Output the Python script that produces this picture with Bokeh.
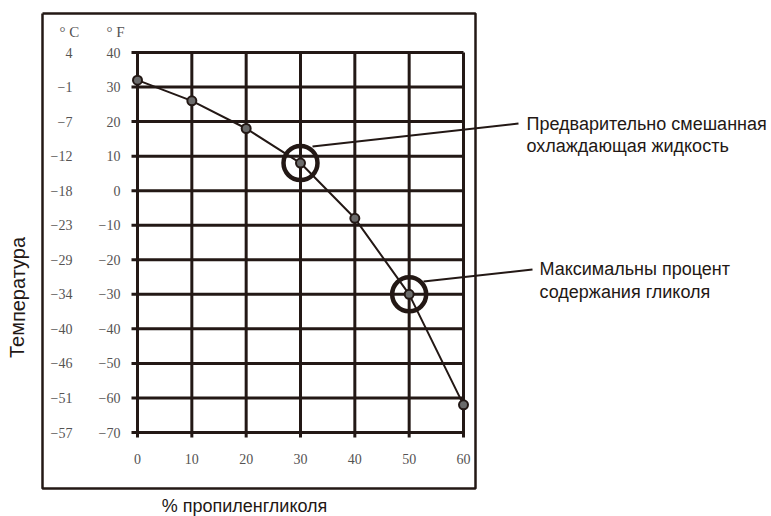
from bokeh.plotting import figure
from bokeh.models import Range1d
from bokeh.core.properties import value
from bokeh.embed import file_html
from bokeh.resources import INLINE

# ---- data ----
glycol_pct = [0, 10, 20, 30, 40, 50, 60]
freeze_f = [32, 26, 18, 8, -8, -30, -62]
highlight_pct = [30, 50]
highlight_f = [8, -30]

x_ticks = [0, 10, 20, 30, 40, 50, 60]
x_tick_labels = ["0", "10", "20", "30", "40", "50", "60"]
f_ticks = [40, 30, 20, 10, 0, -10, -20, -30, -40, -50, -60, -70]
f_tick_labels = ["40", "30", "20", "10", "0", "\u221210", "\u221220", "\u221230",
                 "\u221240", "\u221250", "\u221260", "\u221270"]
c_tick_labels = ["4", "\u22121", "\u22127", "\u221212", "\u221218", "\u221223",
                 "\u221229", "\u221234", "\u221240", "\u221246", "\u221251", "\u221257"]
unit_labels = ["\u00b0 C", "\u00b0 F"]

x_title = "% пропиленгликоля"
y_title = "Температура"
note1 = ["Предварительно смешанная", "охлаждающая жидкость"]
note2 = ["Максимальны процент", "содержания гликоля"]

# ---- layout (picture pixels -> data) ----
W, H = 771, 516
OFF = 0
SX = (463 - 137) / 60.0
SY = (432 - 52) / 110.0
X0 = 0 - (137 - OFF) / SX
Y1 = 40 + (52 - OFF) / SY


def dx(px):
    return X0 + (px - OFF) / SX


def dy(py):
    return Y1 - (py - OFF) / SY


p = figure(width=W, height=H, output_backend="svg", toolbar_location=None,
           x_range=Range1d(X0, X0 + W / SX), y_range=Range1d(Y1 - H / SY, Y1),
           x_axis_location=None, y_axis_location=None, min_border=0,
           outline_line_color=None, background_fill_color="white")
p.xgrid.visible = False
p.ygrid.visible = False

INK = "#231815"
GRAY = "#555353"
SERIF = value("Liberation Serif")
SANS = value("Liberation Sans")

# outer frame
fx0, fx1 = dx(42), dx(475)
fy0, fy1 = dy(488), dy(13)
p.line([fx0, fx1, fx1, fx0, fx0], [fy1, fy1, fy0, fy0, fy1], line_color=INK, line_width=2.5)

# grid with small tick extensions
ext_x = 6 / SX
ext_y = 5 / SY
n = len(x_ticks)
p.segment(x0=x_ticks, y0=[f_ticks[-1] - ext_y] * n, x1=x_ticks, y1=[f_ticks[0]] * n,
          line_color=INK, line_width=3)
m = len(f_ticks)
p.segment(x0=[x_ticks[0] - ext_x] * m, y0=f_ticks, x1=[x_ticks[-1]] * m, y1=f_ticks,
          line_color=INK, line_width=3)

# data line and markers
p.line(glycol_pct, freeze_f, line_color=INK, line_width=2)
p.scatter(glycol_pct, freeze_f, size=9, fill_color="#6b6b6b", line_color=INK, line_width=2)

# highlight circles
p.scatter(highlight_pct, highlight_f, size=34, fill_color=None, line_color=INK, line_width=4.5)

# leader lines
p.segment(x0=[dx(312), dx(423)], y0=[dy(146), dy(281)],
          x1=[dx(518), dx(532)], y1=[dy(123), dy(269)], line_color=INK, line_width=2)

# tick labels
p.text(x=[dx(120)] * m, y=f_ticks, text=f_tick_labels, text_font=SERIF,
       text_font_size="14px", text_color=GRAY, text_align="right", text_baseline="middle")
p.text(x=[dx(72)] * m, y=f_ticks, text=c_tick_labels, text_font=SERIF,
       text_font_size="14px", text_color=GRAY, text_align="right", text_baseline="middle")
p.text(x=x_ticks, y=[dy(458)] * n, text=x_tick_labels, text_font=SERIF,
       text_font_size="14px", text_color=GRAY, text_align="center", text_baseline="middle")
p.text(x=[dx(69), dx(115)], y=[dy(31), dy(31)], text=unit_labels, text_font=SERIF,
       text_font_size="15px", text_color=GRAY, text_align="center", text_baseline="middle")

# axis titles
p.text(x=[dx(244)], y=[dy(505)], text=[x_title], text_font=SANS, text_font_size="18px",
       text_color=INK, text_align="center", text_baseline="middle")
p.text(x=[dx(17)], y=[dy(297)], text=[y_title], text_font=SANS, text_font_size="20px",
       text_color=INK, text_align="center", text_baseline="middle", angle=1.5707963)

# annotations
p.text(x=[dx(526)] * 2, y=[dy(123), dy(145)], text=note1, text_font=SANS, text_font_size="18px",
       text_color=INK, text_align="left", text_baseline="middle")
p.text(x=[dx(539)] * 2, y=[dy(268), dy(291)], text=note2, text_font=SANS, text_font_size="18px",
       text_color=INK, text_align="left", text_baseline="middle")

open("out.html", "w").write(file_html(p, INLINE))
